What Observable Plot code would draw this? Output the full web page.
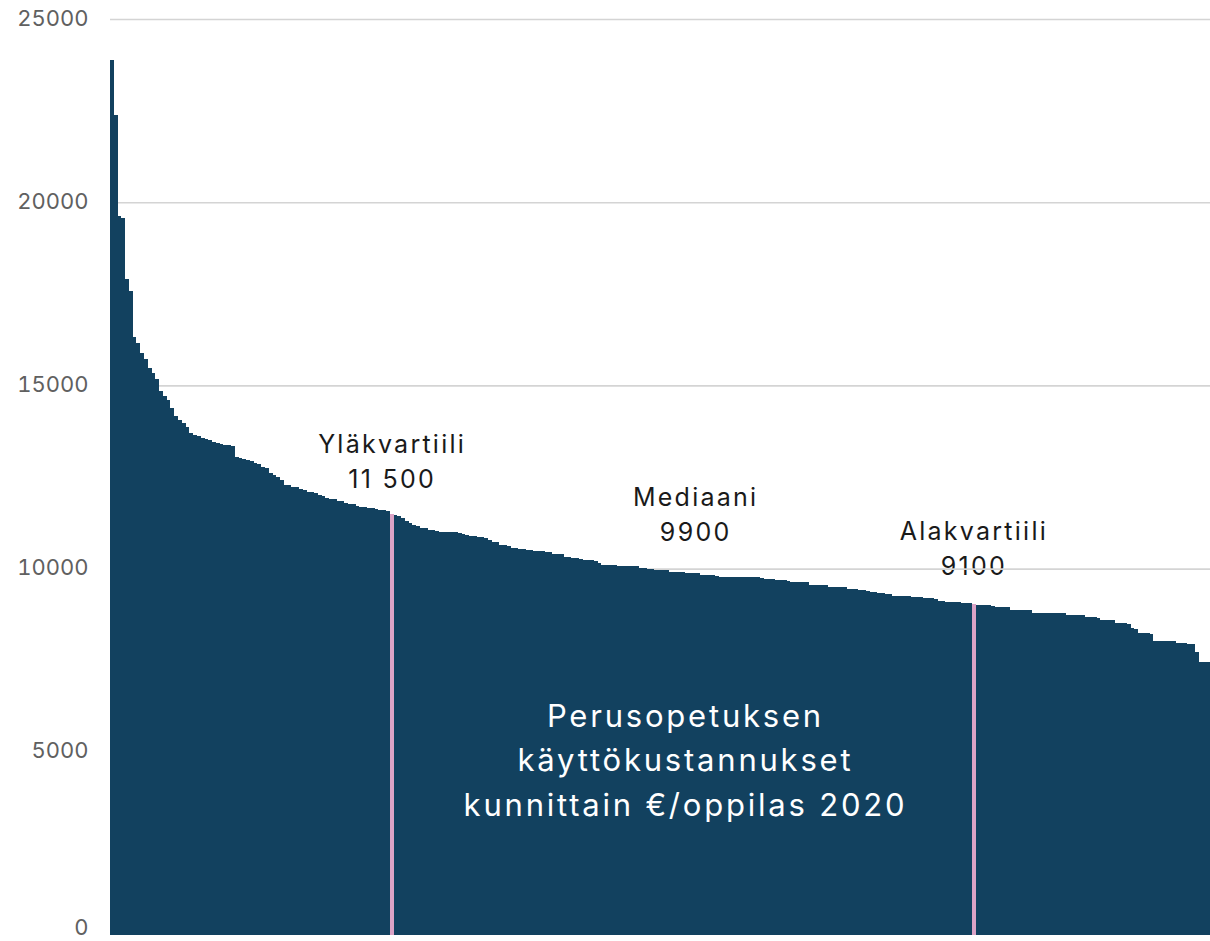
<!DOCTYPE html>
<html>
<head>
<meta charset="utf-8">
<script src="https://cdn.jsdelivr.net/npm/d3@7"></script>
<script src="https://cdn.jsdelivr.net/npm/@observablehq/plot@0.6"></script>
<style>
html, body { margin: 0; padding: 0; background: #fff; }
#chart svg { display: block; }
</style>
</head>
<body>
<div id="chart"></div>
<script>
// Per-municipality operating cost of basic education, €/pupil 2020 (sorted)
const values = [
  23880, 22380, 19620, 19560, 17900, 17580, 16330, 16170, 15880, 15720,
  15470, 15350, 15170, 14850, 14710, 14600, 14380, 14170, 14060, 13980,
  13870, 13710, 13650, 13620, 13560, 13530, 13510, 13450, 13420, 13400,
  13380, 13360, 13350, 13040, 13010, 12990, 12960, 12950, 12870, 12860,
  12760, 12740, 12600, 12560, 12490, 12420, 12280, 12270, 12240, 12220,
  12160, 12150, 12100, 12080, 12050, 12010, 11990, 11920, 11910, 11900,
  11850, 11840, 11800, 11760, 11750, 11700, 11690, 11680, 11660, 11650,
  11620, 11600, 11590, 11580, 11490, 11460, 11440, 11370, 11300, 11240,
  11190, 11150, 11120, 11110, 11050, 11050, 11030, 11010, 11005, 11000,
  10995, 10990, 10960, 10940, 10930, 10890, 10880, 10870, 10850, 10845,
  10780, 10730, 10720, 10650, 10640, 10630, 10560, 10550, 10540, 10525,
  10520, 10515, 10490, 10485, 10470, 10460, 10455, 10400, 10398, 10390,
  10310, 10305, 10300, 10280, 10275, 10240, 10235, 10230, 10220, 10160,
  10110, 10100, 10095, 10090, 10075, 10070, 10070, 10068, 10065, 10060,
  10016, 10005, 10000, 9990, 9962, 9960, 9955, 9950, 9916, 9915,
  9910, 9895, 9890, 9888, 9885, 9880, 9826, 9825, 9820, 9815,
  9790, 9780, 9780, 9778, 9775, 9772, 9770, 9765, 9763, 9762,
  9760, 9758, 9740, 9710, 9708, 9705, 9700, 9695, 9690, 9650,
  9643, 9640, 9635, 9630, 9625, 9560, 9552, 9550, 9545, 9540,
  9507, 9505, 9500, 9495, 9490, 9434, 9432, 9430, 9428, 9425,
  9400, 9370, 9365, 9340, 9324, 9320, 9310, 9252, 9250, 9248,
  9245, 9240, 9216, 9214, 9212, 9210, 9190, 9185, 9180, 9124,
  9120, 9097, 9095, 9092, 9090, 9051, 9050, 9048, 9032, 9006,
  9005, 9003, 9000, 8990, 8961, 8958, 8955, 8950, 8870, 8868,
  8866, 8864, 8862, 8860, 8797, 8796, 8795, 8794, 8793, 8792,
  8790, 8788, 8786, 8734, 8732, 8730, 8728, 8725, 8670, 8668,
  8666, 8664, 8597, 8595, 8593, 8590, 8506, 8504, 8502, 8500,
  8370, 8360, 8234, 8232, 8230, 8228, 8033, 8030, 8028, 8025,
  8022, 8020, 7960, 7958, 7956, 7954, 7952, 7733, 7460, 7455,
  7450
];
// indices of the bars marked as upper / lower quartile
const highlighted = [74, 228];

const yTicks = [5000, 10000, 15000, 20000, 25000];
const yZeroTick = [0];

const labelTexts = ["Yläkvartiili\n11 500", "Mediaani\n9900", "Alakvartiili\n9100"];
const labelX = [74.5, 154.8, 228.4];
const labelY = [12990, 11550, 10620];

const titleText = "Perusopetuksen\nkäyttökustannukset\nkunnittain €/oppilas 2020";
const titleX = 152.1;
const titleY = 4870;

const navy = "#12415f";
const pink = "#dba3c6";

const bars = values.map((v, i) => ({i, v, fill: highlighted.includes(i) ? pink : navy}));
const labels = labelTexts.map((t, k) => ({t, x: labelX[k], y: labelY[k]}));

const chart = Plot.plot({
  width: 1210,
  height: 941,
  marginLeft: 110,
  marginRight: 0,
  marginTop: 19,
  marginBottom: 6,
  style: {fontFamily: "Inter, sans-serif", background: "#fff"},
  x: {domain: [0, values.length], axis: null},
  y: {domain: [0, 25000], axis: null},
  color: {type: "identity"},
  marks: [
    Plot.text(labels, {x: "x", y: "y", text: "t", fontSize: 25, lineHeight: 1.38, fill: "#1a1a1a", lineAnchor: "middle", textAnchor: "middle"}),
    Plot.gridY(yTicks, {stroke: "#d4d4d4", strokeOpacity: 1, strokeWidth: 1.6}),
    Plot.axisY(yTicks, {tickSize: 0, tickPadding: 22, tickFormat: d => String(d), fontSize: 22, color: "#606060", dy: -1}),
    Plot.axisY(yZeroTick, {tickSize: 0, tickPadding: 22, tickFormat: d => String(d), fontSize: 22, color: "#606060", dy: -8}),
    Plot.rectY(bars, {x1: "i", x2: d => d.i + 1, y1: 0, y2: "v", fill: "fill", inset: 0, shapeRendering: "crispEdges"}),
    Plot.text([titleText], {x: () => titleX, y: () => titleY, text: d => d, fontSize: 31, lineHeight: 1.43, fill: "#ffffff", lineAnchor: "middle", textAnchor: "middle"})
  ]
});

document.getElementById("chart").appendChild(chart);

// widen letter spacing of annotation texts to approximate the original wide typeface
chart.querySelectorAll('g[aria-label="text"] text').forEach(t => {
  t.style.letterSpacing = "0.09em";
});
</script>
</body>
</html>
